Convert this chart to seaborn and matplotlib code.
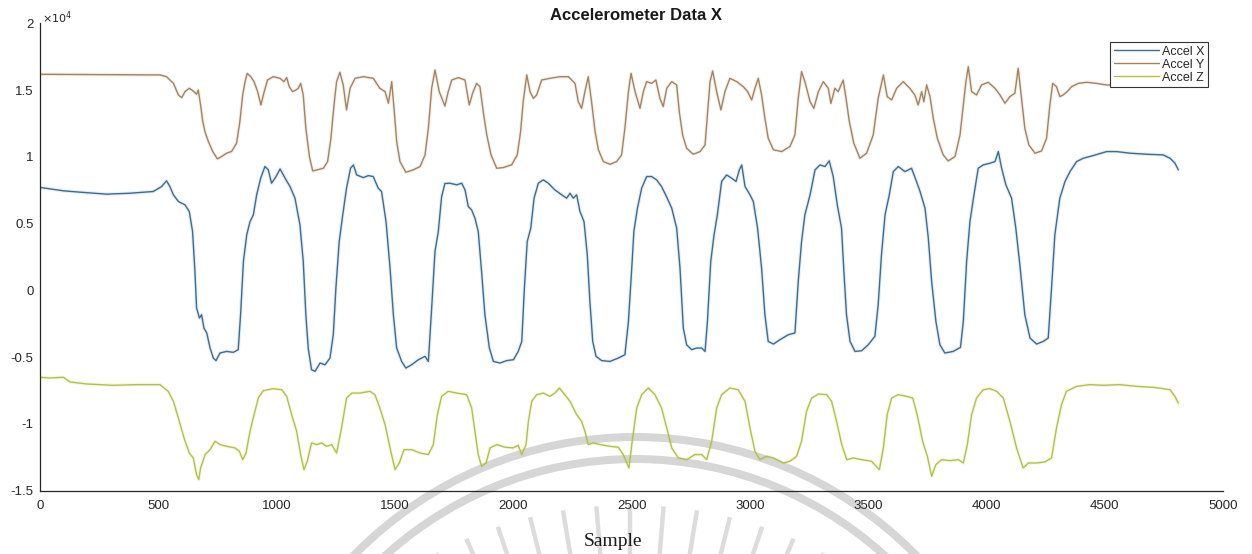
import matplotlib
matplotlib.use("Agg")
import matplotlib.pyplot as plt
from matplotlib.patches import Wedge
from matplotlib.ticker import FuncFormatter
import numpy as np
import pandas as pd
import seaborn as sns

# Raw readings are stored in units of 1e4 counts
SCALE = 1e4

accel_x_samples = [0, 40, 97, 167, 280, 378, 477, 512, 533, 547, 562, 583, 611, 629, 643, 653, 660, 672, 681, 691,
                   703, 717, 731, 742, 759, 787, 815, 836, 846, 858, 872, 886, 900, 914, 931, 949, 963, 977, 996, 1013,
                   1034, 1055, 1076, 1097, 1111, 1122, 1132, 1146, 1161, 1182, 1203, 1224, 1238, 1249, 1263, 1278, 1294,
                   1311, 1323, 1337, 1365, 1386, 1407, 1428, 1442, 1461, 1478, 1492, 1506, 1527, 1545, 1569, 1598, 1626,
                   1640, 1654, 1668, 1682, 1696, 1710, 1731, 1760, 1781, 1795, 1809, 1823, 1837, 1851, 1865, 1879, 1898,
                   1915, 1943, 1971, 2000, 2020, 2035, 2046, 2058, 2073, 2087, 2105, 2126, 2147, 2175, 2204, 2225, 2239,
                   2253, 2267, 2281, 2298, 2312, 2323, 2335, 2349, 2373, 2408, 2443, 2471, 2486, 2500, 2509, 2524, 2542,
                   2563, 2584, 2605, 2626, 2650, 2669, 2690, 2704, 2718, 2732, 2753, 2774, 2796, 2810, 2820, 2834, 2848,
                   2862, 2880, 2901, 2922, 2941, 2955, 2965, 2979, 3000, 3014, 3032, 3049, 3063, 3077, 3099, 3127, 3162,
                   3190, 3204, 3218, 3232, 3254, 3275, 3296, 3317, 3335, 3352, 3369, 3387, 3397, 3408, 3423, 3444, 3472,
                   3500, 3528, 3542, 3556, 3571, 3589, 3606, 3627, 3655, 3683, 3704, 3719, 3740, 3754, 3768, 3786, 3803,
                   3824, 3859, 3890, 3902, 3916, 3930, 3947, 3965, 3986, 4015, 4036, 4050, 4064, 4082, 4106, 4124, 4141,
                   4162, 4184, 4212, 4240, 4261, 4275, 4289, 4310, 4332, 4353, 4381, 4409, 4451, 4508, 4550, 4607, 4677,
                   4747, 4776, 4797, 4811]
accel_x_values = [0.77, 0.76, 0.745, 0.735, 0.72, 0.727, 0.74, 0.777, 0.82, 0.777, 0.715, 0.665, 0.64, 0.59, 0.44,
                  0.141, -0.133, -0.208, -0.183, -0.283, -0.32, -0.433, -0.508, -0.527, -0.47, -0.458, -0.465, -0.445,
                  -0.183, 0.216, 0.415, 0.515, 0.565, 0.715, 0.84, 0.927, 0.902, 0.802, 0.852, 0.909, 0.84, 0.777, 0.69,
                  0.49, 0.216, -0.183, -0.433, -0.595, -0.607, -0.545, -0.558, -0.508, -0.333, 0.016, 0.365, 0.565,
                  0.765, 0.914, 0.939, 0.864, 0.844, 0.859, 0.852, 0.765, 0.74, 0.515, 0.166, -0.183, -0.433, -0.533,
                  -0.583, -0.558, -0.52, -0.495, -0.533, -0.133, 0.29, 0.44, 0.70, 0.80, 0.802, 0.79, 0.802, 0.752,
                  0.627, 0.602, 0.54, 0.44, 0.141, -0.183, -0.433, -0.533, -0.545, -0.527, -0.52, -0.458, -0.383, 0.016,
                  0.365, 0.465, 0.69, 0.802, 0.827, 0.802, 0.752, 0.715, 0.69, 0.727, 0.69, 0.715, 0.59, 0.515, 0.266,
                  -0.084, -0.383, -0.495, -0.527, -0.533, -0.508, -0.483, -0.233, 0.166, 0.44, 0.615, 0.765, 0.852,
                  0.852, 0.827, 0.777, 0.69, 0.615, 0.465, 0.166, -0.283, -0.408, -0.445, -0.433, -0.433, -0.458,
                  -0.233, 0.216, 0.415, 0.565, 0.815, 0.864, 0.84, 0.815, 0.902, 0.939, 0.777, 0.715, 0.665, 0.465,
                  0.166, -0.183, -0.383, -0.403, -0.37, -0.333, -0.32, 0.066, 0.365, 0.565, 0.715, 0.902, 0.939, 0.927,
                  0.969, 0.852, 0.64, 0.465, 0.141, -0.183, -0.383, -0.458, -0.453, -0.408, -0.345, -0.108, 0.266,
                  0.565, 0.715, 0.889, 0.927, 0.889, 0.914, 0.815, 0.74, 0.615, 0.39, 0.066, -0.233, -0.408, -0.47,
                  -0.458, -0.428, -0.233, 0.216, 0.515, 0.715, 0.914, 0.939, 0.952, 0.964, 1.039, 0.914, 0.79, 0.69,
                  0.465, 0.191, -0.183, -0.358, -0.403, -0.383, -0.358, 0.016, 0.415, 0.69, 0.815, 0.889, 0.964, 0.989,
                  1.009, 1.039, 1.039, 1.027, 1.019, 1.014, 0.989, 0.952, 0.902]

accel_y_samples = [0, 505, 533, 562, 583, 597, 611, 629, 646, 660, 667, 677, 686, 696, 710, 728, 748, 766, 787, 808,
                   829, 843, 855, 865, 874, 889, 903, 918, 932, 946, 960, 984, 1013, 1029, 1041, 1052, 1066, 1080, 1090,
                   1100, 1111, 1122, 1137, 1151, 1170, 1196, 1214, 1228, 1241, 1252, 1266, 1280, 1294, 1309, 1330, 1365,
                   1407, 1435, 1457, 1471, 1485, 1496, 1506, 1520, 1545, 1576, 1605, 1626, 1640, 1654, 1668, 1686, 1710,
                   1724, 1739, 1767, 1795, 1813, 1827, 1844, 1858, 1872, 1887, 1905, 1929, 1957, 1992, 2016, 2030, 2041,
                   2056, 2070, 2084, 2098, 2119, 2154, 2197, 2232, 2260, 2274, 2288, 2302, 2316, 2330, 2345, 2359, 2380,
                   2408, 2436, 2457, 2471, 2486, 2497, 2514, 2535, 2549, 2563, 2584, 2602, 2619, 2633, 2648, 2669, 2690,
                   2701, 2715, 2732, 2760, 2789, 2810, 2821, 2831, 2842, 2859, 2877, 2894, 2915, 2944, 2972, 2990, 3007,
                   3021, 3035, 3049, 3063, 3077, 3099, 3134, 3169, 3190, 3204, 3218, 3232, 3254, 3270, 3289, 3310, 3331,
                   3342, 3359, 3373, 3394, 3406, 3420, 3439, 3465, 3493, 3521, 3542, 3564, 3580, 3599, 3620, 3648, 3676,
                   3697, 3711, 3726, 3735, 3747, 3761, 3775, 3792, 3817, 3838, 3867, 3888, 3902, 3913, 3923, 3937, 3958,
                   3979, 4007, 4036, 4057, 4078, 4099, 4120, 4134, 4148, 4162, 4179, 4205, 4233, 4254, 4268, 4280, 4296,
                   4310, 4324, 4341, 4360, 4388, 4423, 4465, 4508, 4650, 4811]
accel_y_values = [1.618, 1.613, 1.60, 1.55, 1.463, 1.443, 1.488, 1.513, 1.493, 1.468, 1.50, 1.388, 1.264, 1.184,
                  1.114, 1.04, 0.984, 1.002, 1.027, 1.04, 1.101, 1.264, 1.463, 1.563, 1.625, 1.60, 1.563, 1.488, 1.388,
                  1.488, 1.575, 1.60, 1.588, 1.563, 1.593, 1.525, 1.488, 1.50, 1.513, 1.55, 1.463, 1.214, 1.002, 0.894,
                  0.902, 0.914, 0.964, 1.139, 1.388, 1.563, 1.633, 1.538, 1.351, 1.513, 1.588, 1.60, 1.588, 1.513,
                  1.488, 1.401, 1.563, 1.338, 1.114, 0.964, 0.884, 0.902, 0.927, 1.014, 1.214, 1.513, 1.65, 1.488, 1.38,
                  1.488, 1.575, 1.593, 1.575, 1.388, 1.476, 1.55, 1.525, 1.338, 1.164, 1.014, 0.914, 0.919, 0.94, 1.014,
                  1.189, 1.413, 1.613, 1.488, 1.438, 1.463, 1.575, 1.588, 1.60, 1.60, 1.55, 1.413, 1.363, 1.488, 1.60,
                  1.413, 1.189, 1.052, 0.964, 0.944, 0.964, 1.014, 1.214, 1.488, 1.625, 1.488, 1.363, 1.488, 1.563,
                  1.55, 1.575, 1.438, 1.376, 1.513, 1.563, 1.538, 1.338, 1.164, 1.064, 1.019, 1.039, 1.089, 1.338,
                  1.563, 1.643, 1.488, 1.351, 1.488, 1.588, 1.563, 1.525, 1.488, 1.426, 1.513, 1.588, 1.463, 1.289,
                  1.139, 1.052, 1.039, 1.077, 1.164, 1.438, 1.638, 1.563, 1.413, 1.363, 1.488, 1.563, 1.513, 1.40,
                  1.513, 1.488, 1.575, 1.438, 1.264, 1.101, 0.989, 1.027, 1.164, 1.438, 1.613, 1.451, 1.426, 1.513,
                  1.563, 1.513, 1.463, 1.388, 1.488, 1.413, 1.538, 1.451, 1.289, 1.139, 1.014, 0.969, 1.002, 1.164,
                  1.388, 1.563, 1.675, 1.488, 1.463, 1.538, 1.558, 1.513, 1.463, 1.401, 1.451, 1.476, 1.663, 1.438,
                  1.214, 1.089, 1.027, 1.044, 1.139, 1.388, 1.55, 1.525, 1.451, 1.463, 1.488, 1.525, 1.55, 1.558, 1.55,
                  1.538, 1.54, 1.53]

accel_z_samples = [0, 40, 97, 125, 195, 308, 407, 505, 540, 562, 583, 607, 629, 646, 660, 669, 677, 696, 717, 738,
                   759, 787, 822, 841, 855, 869, 886, 903, 921, 942, 984, 1020, 1041, 1062, 1083, 1100, 1114, 1128, 1146,
                   1168, 1189, 1210, 1231, 1252, 1273, 1294, 1316, 1351, 1393, 1414, 1435, 1457, 1478, 1499, 1517, 1537,
                   1569, 1605, 1640, 1661, 1678, 1696, 1724, 1760, 1802, 1823, 1837, 1851, 1865, 1884, 1901, 1929, 1964,
                   1999, 2020, 2035, 2053, 2063, 2077, 2098, 2126, 2154, 2175, 2194, 2211, 2239, 2267, 2288, 2302, 2316,
                   2337, 2366, 2408, 2443, 2464, 2488, 2502, 2521, 2542, 2570, 2598, 2626, 2648, 2669, 2697, 2732, 2767,
                   2796, 2817, 2838, 2859, 2880, 2915, 2950, 2979, 3000, 3021, 3042, 3070, 3099, 3141, 3169, 3197, 3218,
                   3239, 3261, 3289, 3324, 3345, 3366, 3388, 3409, 3437, 3472, 3514, 3547, 3564, 3580, 3599, 3627, 3662,
                   3688, 3707, 3730, 3750, 3768, 3786, 3810, 3845, 3881, 3902, 3919, 3937, 3958, 3986, 4015, 4043, 4071,
                   4099, 4127, 4155, 4177, 4212, 4247, 4275, 4296, 4317, 4338, 4381, 4437, 4494, 4564, 4635, 4705, 4747,
                   4776, 4797, 4811]
accel_z_values = [-0.652, -0.657, -0.652, -0.687, -0.702, -0.712, -0.707, -0.707, -0.757, -0.832, -0.957, -1.107,
                  -1.219, -1.256, -1.381, -1.418, -1.331, -1.231, -1.194, -1.131, -1.156, -1.169, -1.181, -1.206,
                  -1.269, -1.219, -1.056, -0.932, -0.807, -0.752, -0.737, -0.745, -0.795, -0.932, -1.056, -1.231,
                  -1.344, -1.281, -1.144, -1.156, -1.144, -1.169, -1.156, -1.219, -1.031, -0.807, -0.77, -0.77, -0.757,
                  -0.782, -0.882, -1.007, -1.181, -1.344, -1.294, -1.194, -1.194, -1.219, -1.231, -1.156, -0.932,
                  -0.795, -0.757, -0.77, -0.782, -0.882, -1.057, -1.231, -1.319, -1.294, -1.181, -1.156, -1.176,
                  -1.181, -1.161, -1.231, -1.156, -0.982, -0.832, -0.782, -0.77, -0.795, -0.77, -0.732, -0.77, -0.832,
                  -0.932, -0.982, -1.057, -1.156, -1.144, -1.156, -1.169, -1.176, -1.231, -1.331, -1.131, -0.882,
                  -0.782, -0.732, -0.782, -0.882, -1.032, -1.181, -1.256, -1.269, -1.231, -1.231, -1.269, -1.131,
                  -0.882, -0.782, -0.732, -0.745, -0.832, -1.032, -1.206, -1.269, -1.244, -1.256, -1.294, -1.281,
                  -1.244, -1.131, -0.907, -0.807, -0.777, -0.782, -0.832, -0.982, -1.156, -1.27, -1.256, -1.269,
                  -1.281, -1.344, -1.181, -0.932, -0.807, -0.782, -0.795, -0.807, -0.932, -1.132, -1.244, -1.394,
                  -1.306, -1.269, -1.276, -1.269, -1.294, -1.156, -0.932, -0.807, -0.745, -0.737, -0.757, -0.807,
                  -0.982, -1.181, -1.331, -1.294, -1.294, -1.286, -1.256, -1.032, -0.857, -0.757, -0.72, -0.707,
                  -0.712, -0.707, -0.72, -0.727, -0.737, -0.745, -0.795, -0.845]

series_names = ["Accel X", "Accel Y", "Accel Z"]
series_colors = ["#3b6d93", "#a4835f", "#b3c146"]
x_ticks = list(range(0, 5001, 500))
y_ticks = [-1.5, -1.0, -0.5, 0.0, 0.5, 1.0, 1.5, 2.0]

frames = []
for name, xs, ys in zip(series_names,
                        [accel_x_samples, accel_y_samples, accel_z_samples],
                        [accel_x_values, accel_y_values, accel_z_values]):
    frames.append(pd.DataFrame({"Sample": xs,
                                "Value": np.asarray(ys) * SCALE,
                                "Series": name}))
df = pd.concat(frames, ignore_index=True)
palette = dict(zip(series_names, series_colors))

sns.set_theme(style="white")
plt.rcParams["font.family"] = ["Liberation Sans", "DejaVu Sans"]
plt.rcParams["axes.unicode_minus"] = False

W, H = 1252, 554
fig = plt.figure(figsize=(W / 100, H / 100), dpi=100)
fig.patch.set_facecolor("white")

# faint emblem printed behind the figure
bg = fig.add_axes([0, 0, 1, 1], zorder=0)
bg.set_xlim(0, W)
bg.set_ylim(0, H)
bg.axis("off")
cx, cy = 635, H - 830
bg.add_patch(Wedge((cx, cy), 397, 0, 180, width=8, color="#d6d6d6", lw=0))
bg.add_patch(Wedge((cx, cy), 375, 0, 180, width=8, color="#d6d6d6", lw=0))
rcx, rcy = 630, H - 918
for ang in np.linspace(62, 118, 13):
    t = np.deg2rad(ang)
    bg.plot([rcx + 300 * np.cos(t), rcx + 413 * np.cos(t)],
            [rcy + 300 * np.sin(t), rcy + 413 * np.sin(t)],
            color="#dcdcdc", lw=3.2, solid_capstyle="butt")

left, right, bottom, top = 40.5, 1223, 490.5, 23.3
ax = fig.add_axes([left / W, (H - bottom) / H, (right - left) / W, (bottom - top) / H], zorder=1)
ax.patch.set_alpha(0)

# soft halo of the raw readings under each trace
sns.lineplot(data=df, x="Sample", y="Value", hue="Series", palette=palette,
             estimator=None, sort=False, linewidth=2.6, alpha=0.12, legend=False, ax=ax)
sns.lineplot(data=df, x="Sample", y="Value", hue="Series", palette=palette,
             estimator=None, sort=False, linewidth=1.0, ax=ax)

ax.set_xlim(0, 5000)
ax.set_ylim(-1.5 * SCALE, 2.0 * SCALE)
ax.set_xticks(x_ticks)
ax.set_yticks([v * SCALE for v in y_ticks])
ax.yaxis.set_major_formatter(FuncFormatter(lambda v, p: f"{v / SCALE:g}"))
ax.set_xlabel("")
ax.set_ylabel("")
for s in ["top", "right"]:
    ax.spines[s].set_visible(False)
for s in ["left", "bottom"]:
    ax.spines[s].set_color("#262626")
    ax.spines[s].set_linewidth(0.9)
ax.tick_params(axis="both", direction="in", length=5, width=0.8, colors="#262626",
               labelsize=9.5, labelcolor="#262626")
ax.tick_params(axis="x", pad=7)
ax.tick_params(axis="y", pad=5)

handles, labels = ax.get_legend_handles_labels()
leg = ax.legend(handles, labels, loc="upper right", bbox_to_anchor=(0.9873, 0.96),
                frameon=True, fancybox=False, edgecolor="#333333", framealpha=1,
                facecolor="white", fontsize=9, handlelength=3.6, handletextpad=0.25,
                borderpad=0.3, labelspacing=0.08, borderaxespad=0)
leg.get_frame().set_linewidth(0.8)

fig.text(636 / W, 1 - 16 / H, "Accelerometer Data X", ha="center", va="center",
         fontsize=12, fontweight="bold", color="#1a1a1a")
fig.text(42 / W, 1 - 18 / H, r"$\times10^{4}$", ha="left", va="center", fontsize=8, color="#262626")
fig.text(613 / W, 1 - 541 / H, "Sample", ha="center", va="center", fontsize=14,
         family="Liberation Serif", color="#1a1a1a")

fig.savefig("out.png", dpi=100, facecolor="white")
